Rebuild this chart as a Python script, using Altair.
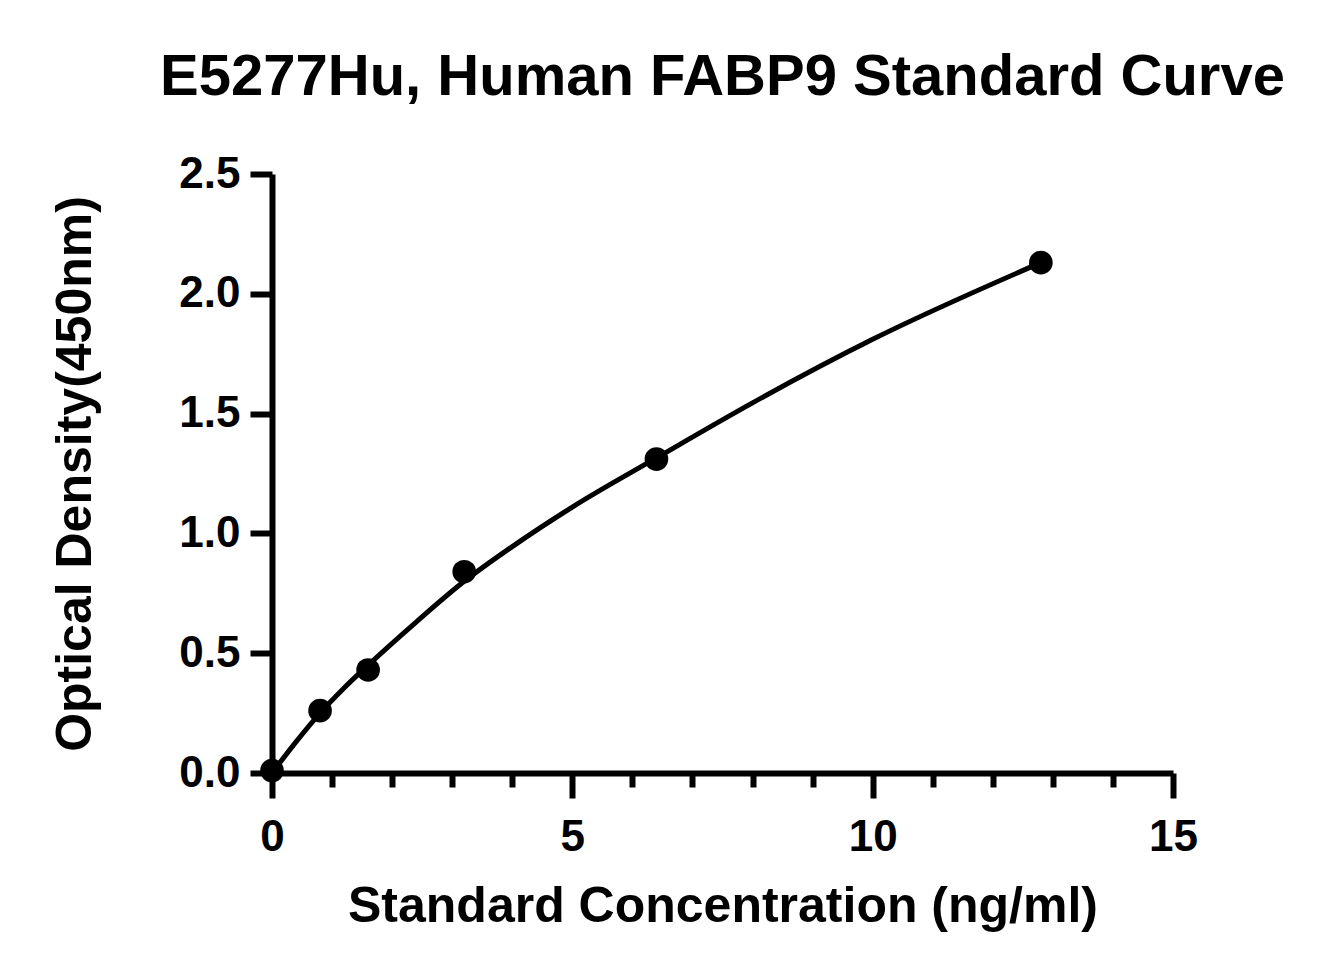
import altair as alt
import pandas as pd

# Standard points
conc = [0, 0.8, 1.6, 3.2, 6.4, 12.8]
od = [0.01, 0.26, 0.43, 0.84, 1.31, 2.13]

# Fitted curve
curve_x = [0, 0.4, 0.8, 1.2, 1.6, 2.4, 3.2, 4.0, 5.0, 6.4, 8.0, 10.0, 12.8]
curve_y = [0.0, 0.13, 0.25, 0.355, 0.45, 0.63, 0.80, 0.945, 1.11, 1.315, 1.545, 1.81, 2.13]

x_ticks = list(range(0, 16))
y_ticks = [0, 0.5, 1.0, 1.5, 2.0, 2.5]

title_text = "E5277Hu, Human FABP9 Standard Curve"
x_title = "Standard Concentration (ng/ml)"
y_title = "Optical Density(450nm)"

FONT = "Liberation Sans"

pts = pd.DataFrame({"x": conc, "y": od})
crv = pd.DataFrame({"x": curve_x, "y": curve_y})

xscale = alt.Scale(domain=[0, 15], nice=False, zero=True)
yscale = alt.Scale(domain=[0, 2.5], nice=False, zero=True)

xaxis = alt.Axis(
    values=x_ticks,
    format="d",
    labelExpr="datum.value % 5 === 0 ? datum.label : ''",
    tickSize={"condition": {"test": "datum.value % 5 === 0", "value": 25}, "value": 14},
    tickWidth=6,
    tickColor="black",
    domainColor="black",
    domainWidth=6,
    labelFont=FONT,
    labelFontSize=44,
    labelFontWeight="bold",
    labelColor="black",
    labelPadding=17,
    labelFlush=False,
    labelOverlap=False,
    title=x_title,
    titleFont=FONT,
    titleFontSize=50,
    titleFontWeight="bold",
    titleColor="black",
    titlePadding=22,
    grid=False,
)

yaxis = alt.Axis(
    values=y_ticks,
    format=".1f",
    tickSize=22,
    tickWidth=6,
    tickColor="black",
    domainColor="black",
    domainWidth=6,
    labelFont=FONT,
    labelFontSize=44,
    labelFontWeight="bold",
    labelColor="black",
    labelPadding=10,
    labelFlush=False,
    labelOverlap=False,
    title=y_title,
    titleFont=FONT,
    titleFontSize=50,
    titleFontWeight="bold",
    titleColor="black",
    titlePadding=78,
    grid=False,
)

line = alt.Chart(crv).mark_line(color="black", strokeWidth=5, interpolate="monotone").encode(
    x=alt.X("x:Q", scale=xscale, axis=xaxis),
    y=alt.Y("y:Q", scale=yscale, axis=yaxis),
)

points = alt.Chart(pts).mark_circle(color="black", opacity=1, size=560).encode(
    x=alt.X("x:Q", scale=xscale),
    y=alt.Y("y:Q", scale=yscale),
)

chart = (
    alt.layer(line, points)
    .properties(
        width=901,
        height=599,
        title=alt.TitleParams(
            text=title_text,
            font=FONT,
            fontSize=58,
            fontWeight="bold",
            color="black",
            anchor="middle",
            frame="group",
            offset=45,
        ),
        autosize=alt.AutoSizeParams(type="none"),
        padding={"left": 264, "top": 166, "right": 160, "bottom": 190},
        background="white",
    )
    .configure_view(strokeWidth=0)
)

chart.save("out.html", embed_options={"renderer": "svg", "actions": False})
